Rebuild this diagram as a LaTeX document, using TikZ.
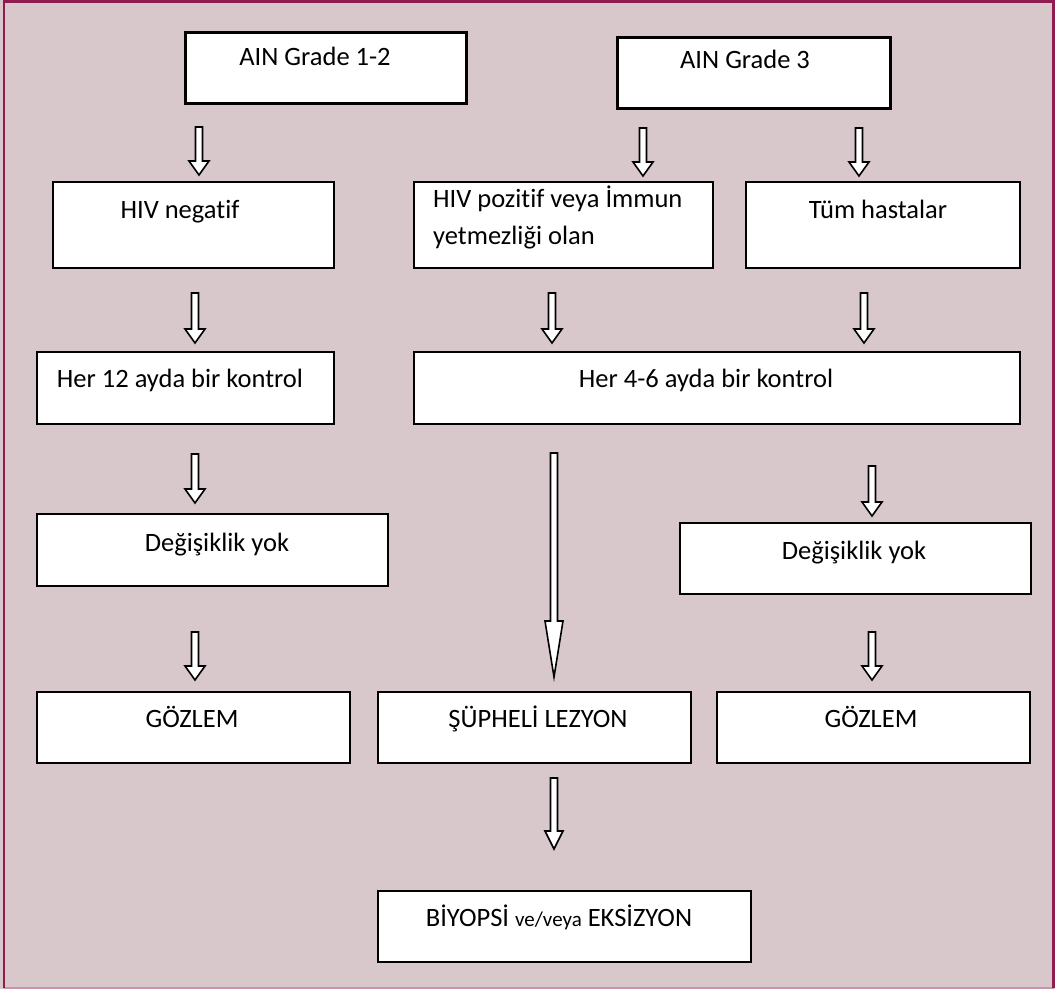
\documentclass[tikz,border=0pt]{standalone}
\usepackage{fontspec}
\setmainfont{Carlito}[Ligatures=NoCommon]
\usetikzlibrary{calc}
\definecolor{bgc}{HTML}{D8C8CC}
\definecolor{framec}{HTML}{8E1C4E}
\definecolor{framelc}{HTML}{C894AA}
\tikzset{
  box/.style={draw=black, fill=white, line width=2.3pt, rectangle, inner sep=0pt, anchor=north west},
  lbl/.style={anchor=base, inner sep=0pt, font=\fontsize{26.5}{37}\selectfont},
  barrow/.style={draw=black, fill=white, line width=1.6pt, line join=miter},
}
\newcommand{\blockarrow}[4]{%
  \draw[barrow] let \p1=(#1), \p2=(#2) in
    (\x1-3.5pt,\y1) -- (\x1+3.5pt,\y1) -- (\x1+3.5pt,\y2+#3) -- (\x1+#4,\y2+#3)
    -- (\x1,\y2) -- (\x1-#4,\y2+#3) -- (\x1-3.5pt,\y2+#3) -- cycle;}
\begin{document}
\begin{tikzpicture}[x=1pt,y=-1pt]
\useasboundingbox (0,0) rectangle (1055,989);
\fill[bgc] (0,0) rectangle (1055,989);
\draw[framelc, line width=2pt] (4,988) -- (1054,988);
\draw[framec, line width=2.5pt] (4,988) -- (4,1.3) -- (1053.7,1.3) -- (1053.7,988);

% boxes
\node[box, minimum width=281pt, minimum height=71pt, line width=3pt] (b1) at (184,31) {};
\node[box, minimum width=273pt, minimum height=71pt, line width=2.7pt] (b2) at (616,36) {};
\node[box, minimum width=281pt, minimum height=86pt] (b3) at (52,181) {};
\node[box, minimum width=299pt, minimum height=86pt] (b4) at (413,181) {};
\node[box, minimum width=274pt, minimum height=86pt] (b5) at (745,181) {};
\node[box, minimum width=297pt, minimum height=72pt] (b6) at (36,351) {};
\node[box, minimum width=606pt, minimum height=72pt] (b7) at (413,351) {};
\node[box, minimum width=351pt, minimum height=72pt] (b8) at (36,513) {};
\node[box, minimum width=351pt, minimum height=71pt] (b9) at (679,522) {};
\node[box, minimum width=313pt, minimum height=71pt] (b10) at (36,691) {};
\node[box, minimum width=313pt, minimum height=71pt] (b11) at (377,691) {};
\node[box, minimum width=313pt, minimum height=71pt] (b12) at (716,691) {};
\node[box, minimum width=373pt, minimum height=71pt] (b13) at (377,890) {};

% texts
\node[lbl] (t1) at (315,65) {AIN Grade 1-2};
\node[lbl] (t2) at (745,68) {AIN Grade 3};
\node[lbl] (t3) at (180,218) {HIV negatif};
\node[lbl, anchor=base west, align=left] (t4) at (433,244) {HIV pozitif veya İmmun\\yetmezliği olan};
\node[lbl] (t5) at (878,218) {Tüm hastalar};
\node[lbl] (t6) at (180,387) {Her 12 ayda bir kontrol};
\node[lbl] (t7) at (706,387) {Her 4-6 ayda bir kontrol};
\node[lbl] (t8) at (217,551) {Değişiklik yok};
\node[lbl] (t9) at (854,559) {Değişiklik yok};
\node[lbl] (t10) at (192,727) {GÖZLEM};
\node[lbl] (t11) at (538,727) {ŞÜPHELİ LEZYON};
\node[lbl] (t12) at (871,727) {GÖZLEM};
\node[lbl] (t13) at (559,926) {BİYOPSİ {\fontsize{21}{24}\selectfont ve/veya} EKSİZYON};

% arrow end points
\coordinate (a1s) at (199,127);  \coordinate (a1e) at (199,175);
\coordinate (a2s) at (643,128);  \coordinate (a2e) at (643,176);
\coordinate (a3s) at (859,128);  \coordinate (a3e) at (859,176);
\coordinate (a4s) at (195,293);  \coordinate (a4e) at (195,343);
\coordinate (a5s) at (552,293);  \coordinate (a5e) at (552,343);
\coordinate (a6s) at (864,293);  \coordinate (a6e) at (864,343);
\coordinate (a7s) at (195,454);  \coordinate (a7e) at (195,503);
\coordinate (a8s) at (554,453);  \coordinate (a8e) at (554,677);
\coordinate (a9s) at (872,466);  \coordinate (a9e) at (872,516);
\coordinate (a10s) at (195,632); \coordinate (a10e) at (195,680);
\coordinate (a11s) at (872,632); \coordinate (a11e) at (872,680);
\coordinate (a12s) at (554,778); \coordinate (a12e) at (554,849);

\blockarrow{a1s}{a1e}{14pt}{10pt}
\blockarrow{a2s}{a2e}{14pt}{10pt}
\blockarrow{a3s}{a3e}{14pt}{10pt}
\blockarrow{a4s}{a4e}{14pt}{10pt}
\blockarrow{a5s}{a5e}{14pt}{10pt}
\blockarrow{a6s}{a6e}{14pt}{10pt}
\blockarrow{a7s}{a7e}{14pt}{10pt}
\blockarrow{a8s}{a8e}{56pt}{9pt}
\blockarrow{a9s}{a9e}{14pt}{10pt}
\blockarrow{a10s}{a10e}{14pt}{10pt}
\blockarrow{a11s}{a11e}{14pt}{10pt}
\blockarrow{a12s}{a12e}{18pt}{9pt}
\end{tikzpicture}
\end{document}
